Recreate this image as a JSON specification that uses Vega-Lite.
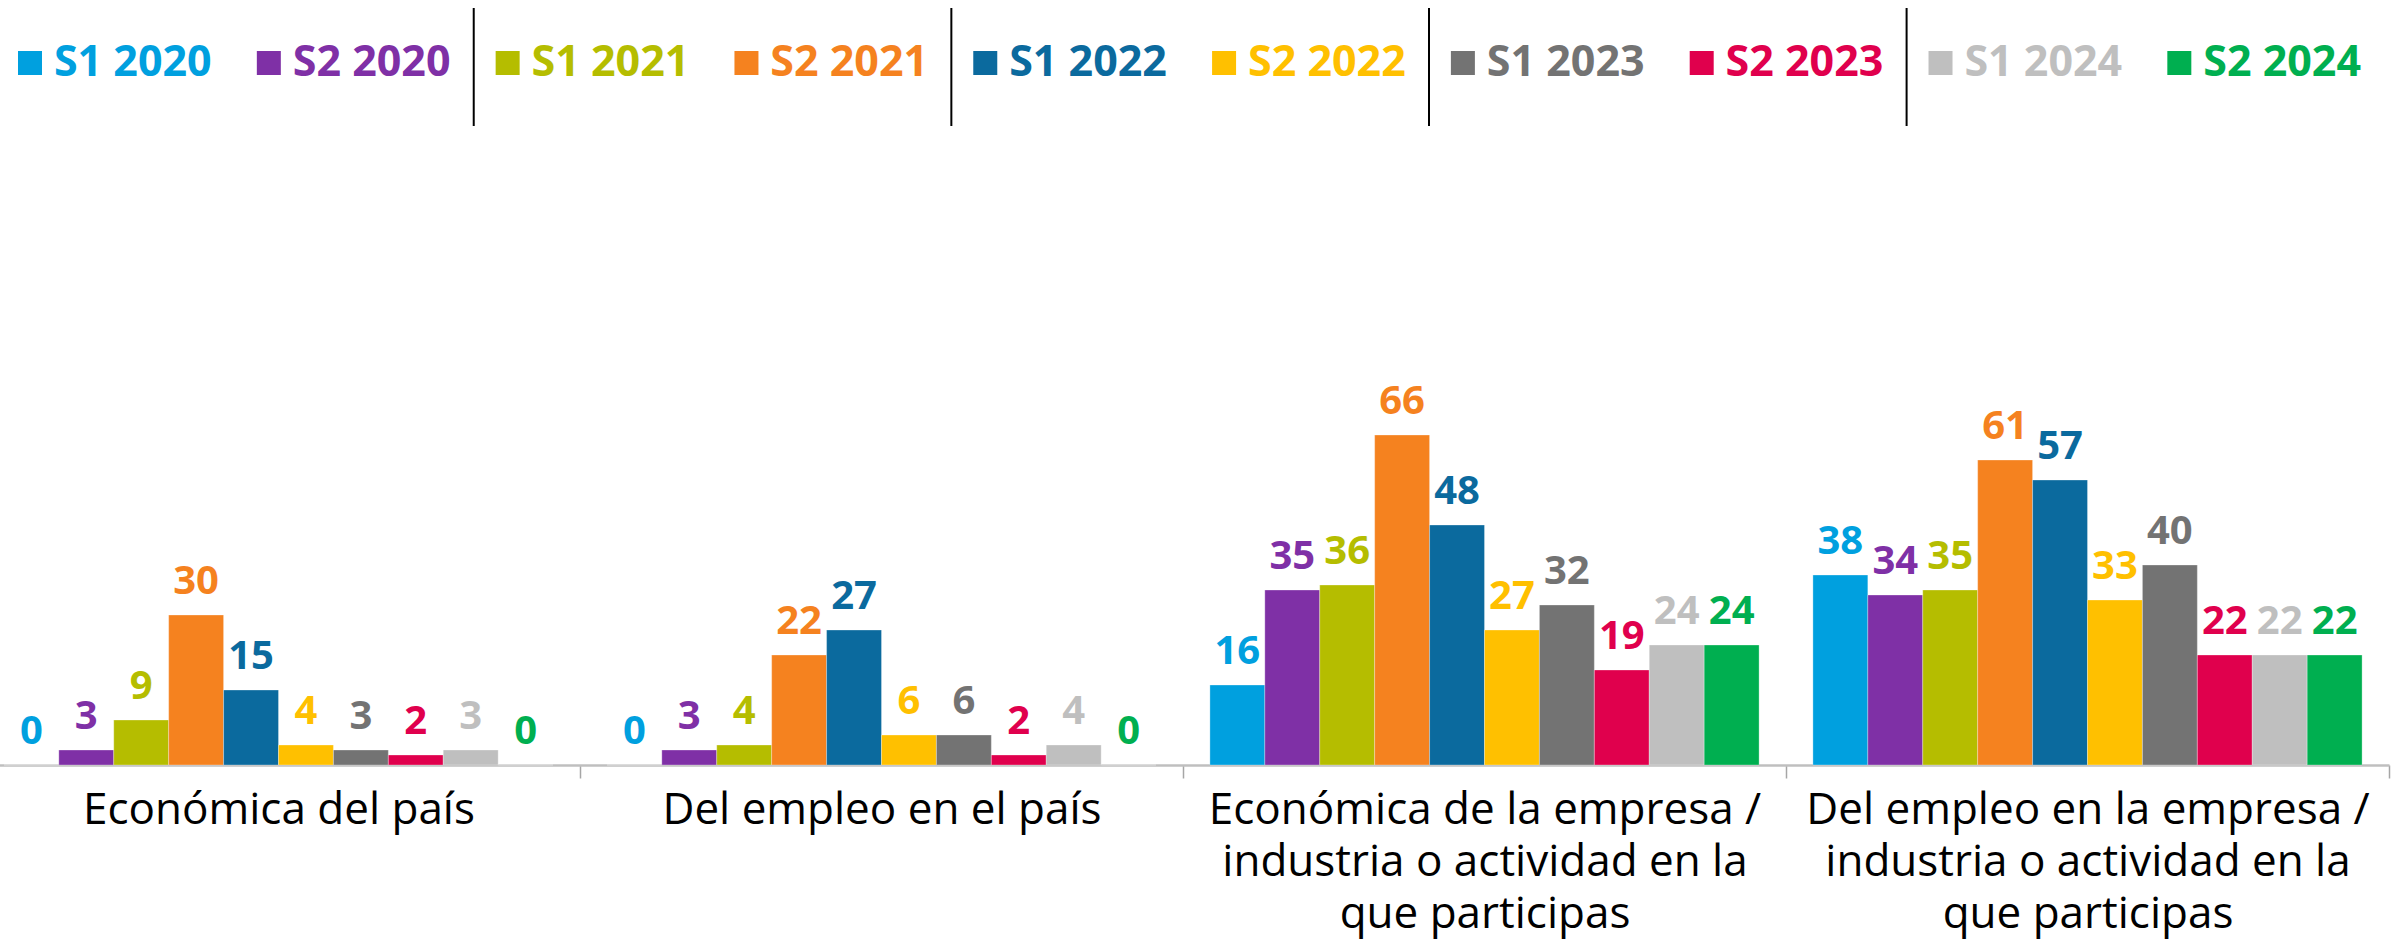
{
  "$schema": "https://vega.github.io/schema/vega-lite/v6.json",
  "width": 2412,
  "height": 765,
  "autosize": {"type": "none"},
  "padding": {"left": -23, "top": 0, "right": 14, "bottom": 176},
  "background": "white",
  "config": {"view": {"stroke": null}, "font": "Open Sans"},
  "datasets": {
    "bars": [
      {"category": "Económica del país", "series": "S1 2020", "value": 0},
      {"category": "Económica del país", "series": "S2 2020", "value": 3},
      {"category": "Económica del país", "series": "S1 2021", "value": 9},
      {"category": "Económica del país", "series": "S2 2021", "value": 30},
      {"category": "Económica del país", "series": "S1 2022", "value": 15},
      {"category": "Económica del país", "series": "S2 2022", "value": 4},
      {"category": "Económica del país", "series": "S1 2023", "value": 3},
      {"category": "Económica del país", "series": "S2 2023", "value": 2},
      {"category": "Económica del país", "series": "S1 2024", "value": 3},
      {"category": "Económica del país", "series": "S2 2024", "value": 0},
      {"category": "Del empleo en el país", "series": "S1 2020", "value": 0},
      {"category": "Del empleo en el país", "series": "S2 2020", "value": 3},
      {"category": "Del empleo en el país", "series": "S1 2021", "value": 4},
      {"category": "Del empleo en el país", "series": "S2 2021", "value": 22},
      {"category": "Del empleo en el país", "series": "S1 2022", "value": 27},
      {"category": "Del empleo en el país", "series": "S2 2022", "value": 6},
      {"category": "Del empleo en el país", "series": "S1 2023", "value": 6},
      {"category": "Del empleo en el país", "series": "S2 2023", "value": 2},
      {"category": "Del empleo en el país", "series": "S1 2024", "value": 4},
      {"category": "Del empleo en el país", "series": "S2 2024", "value": 0},
      {"category": "Económica de la empresa / industria o actividad en la que participas", "series": "S1 2020", "value": 16},
      {"category": "Económica de la empresa / industria o actividad en la que participas", "series": "S2 2020", "value": 35},
      {"category": "Económica de la empresa / industria o actividad en la que participas", "series": "S1 2021", "value": 36},
      {"category": "Económica de la empresa / industria o actividad en la que participas", "series": "S2 2021", "value": 66},
      {"category": "Económica de la empresa / industria o actividad en la que participas", "series": "S1 2022", "value": 48},
      {"category": "Económica de la empresa / industria o actividad en la que participas", "series": "S2 2022", "value": 27},
      {"category": "Económica de la empresa / industria o actividad en la que participas", "series": "S1 2023", "value": 32},
      {"category": "Económica de la empresa / industria o actividad en la que participas", "series": "S2 2023", "value": 19},
      {"category": "Económica de la empresa / industria o actividad en la que participas", "series": "S1 2024", "value": 24},
      {"category": "Económica de la empresa / industria o actividad en la que participas", "series": "S2 2024", "value": 24},
      {"category": "Del empleo en la empresa / industria o actividad en la que participas", "series": "S1 2020", "value": 38},
      {"category": "Del empleo en la empresa / industria o actividad en la que participas", "series": "S2 2020", "value": 34},
      {"category": "Del empleo en la empresa / industria o actividad en la que participas", "series": "S1 2021", "value": 35},
      {"category": "Del empleo en la empresa / industria o actividad en la que participas", "series": "S2 2021", "value": 61},
      {"category": "Del empleo en la empresa / industria o actividad en la que participas", "series": "S1 2022", "value": 57},
      {"category": "Del empleo en la empresa / industria o actividad en la que participas", "series": "S2 2022", "value": 33},
      {"category": "Del empleo en la empresa / industria o actividad en la que participas", "series": "S1 2023", "value": 40},
      {"category": "Del empleo en la empresa / industria o actividad en la que participas", "series": "S2 2023", "value": 22},
      {"category": "Del empleo en la empresa / industria o actividad en la que participas", "series": "S1 2024", "value": 22},
      {"category": "Del empleo en la empresa / industria o actividad en la que participas", "series": "S2 2024", "value": 22}
    ],
    "legend": [
      {"series": "S1 2020"}, {"series": "S2 2020"}, {"series": "S1 2021"}, {"series": "S2 2021"},
      {"series": "S1 2022"}, {"series": "S2 2022"}, {"series": "S1 2023"}, {"series": "S2 2023"},
      {"series": "S1 2024"}, {"series": "S2 2024"}
    ],
    "seps": [
      {"series": "S1 2021"}, {"series": "S1 2022"}, {"series": "S1 2023"}, {"series": "S1 2024"}
    ]
  },
  "layer": [
    {
      "data": {"name": "bars"},
      "encoding": {
        "x": {
          "field": "category", "type": "nominal", "title": null,
          "sort": ["Económica del país", "Del empleo en el país", "Económica de la empresa / industria o actividad en la que participas", "Del empleo en la empresa / industria o actividad en la que participas"],
          "scale": {"paddingInner": 0, "paddingOuter": 0}
        },
        "xOffset": {
          "field": "series", "type": "nominal",
          "sort": ["S1 2020", "S2 2020", "S1 2021", "S2 2021", "S1 2022", "S2 2022", "S1 2023", "S2 2023", "S1 2024", "S2 2024"],
          "scale": {"paddingInner": 0, "paddingOuter": 0.49}
        },
        "y": {"field": "value", "type": "quantitative", "scale": {"domain": [0, 153], "nice": false}, "axis": null},
        "color": {
          "field": "series", "type": "nominal", "legend": null,
          "scale": {
            "domain": ["S1 2020", "S2 2020", "S1 2021", "S2 2021", "S1 2022", "S2 2022", "S1 2023", "S2 2023", "S1 2024", "S2 2024"],
            "range": ["#00A0DF", "#7F30A6", "#B5BD00", "#F5821F", "#0B6A9E", "#FFC000", "#737373", "#E0004D", "#BFBFBF", "#00AF50"]
          }
        }
      },
      "layer": [
        {
          "mark": {"type": "bar", "stroke": "white", "strokeWidth": 0.5, "strokeOpacity": 0.6},
          "encoding": {
            "x": {
              "field": "category", "type": "nominal", "title": null,
              "sort": ["Económica del país", "Del empleo en el país", "Económica de la empresa / industria o actividad en la que participas", "Del empleo en la empresa / industria o actividad en la que participas"],
              "axis": {
                "labelAngle": 0,
                "labelFont": "Open Sans",
                "labelFontSize": 44,
                "labelColor": "#000000",
                "labelLineHeight": 52,
                "labelPadding": 10,
                "labelLimit": 700,
                "labelExpr": "split(replace(replace(datum.label, '/ ', '/|'), 'en la que', 'en la|que'), '|')",
                "domainColor": "#BFBFBF",
                "domainWidth": 2.5,
                "tickColor": "#A6A6A6",
                "tickWidth": 1.5,
                "tickSize": 13,
                "tickBand": "extent",
                "grid": false
              }
            }
          }
        },
        {
          "mark": {"type": "text", "baseline": "alphabetic", "dy": -21, "fontWeight": "bold", "fontSize": 40, "font": "Open Sans"},
          "encoding": {"text": {"field": "value", "type": "quantitative"}}
        }
      ]
    },
    {
      "encoding": {
        "x": {
          "field": "series", "type": "nominal", "axis": null,
          "sort": ["S1 2020", "S2 2020", "S1 2021", "S2 2021", "S1 2022", "S2 2022", "S1 2023", "S2 2023", "S1 2024", "S2 2024"],
          "scale": {"paddingInner": 0, "paddingOuter": 0.05}
        },
        "color": {"field": "series", "type": "nominal", "legend": null}
      },
      "layer": [
        {
          "data": {"name": "legend"},
          "mark": {"type": "point", "shape": "square", "filled": true, "size": 576, "opacity": 1},
          "encoding": {
            "x": {"field": "series", "type": "nominal", "axis": null, "bandPosition": 0.172,
              "sort": ["S1 2020", "S2 2020", "S1 2021", "S2 2021", "S1 2022", "S2 2022", "S1 2023", "S2 2023", "S1 2024", "S2 2024"]},
            "y": {"datum": 140.4}
          }
        },
        {
          "data": {"name": "legend"},
          "mark": {"type": "text", "align": "left", "baseline": "middle", "fontWeight": "bold", "fontSize": 43, "font": "Open Sans"},
          "encoding": {
            "x": {"field": "series", "type": "nominal", "axis": null, "bandPosition": 0.272,
              "sort": ["S1 2020", "S2 2020", "S1 2021", "S2 2021", "S1 2022", "S2 2022", "S1 2023", "S2 2023", "S1 2024", "S2 2024"]},
            "y": {"datum": 140.4},
            "text": {"field": "series", "type": "nominal"}
          }
        },
        {
          "data": {"name": "seps"},
          "mark": {"type": "rule", "color": "#000000", "strokeWidth": 2},
          "encoding": {
            "x": {"field": "series", "type": "nominal", "axis": null, "bandPosition": 0.03,
              "sort": ["S1 2020", "S2 2020", "S1 2021", "S2 2021", "S1 2022", "S2 2022", "S1 2023", "S2 2023", "S1 2024", "S2 2024"]},
            "y": {"datum": 151.4},
            "y2": {"datum": 127.8},
            "color": {"value": "#000000"}
          }
        }
      ]
    }
  ],
  "resolve": {"scale": {"x": "independent"}}
}
